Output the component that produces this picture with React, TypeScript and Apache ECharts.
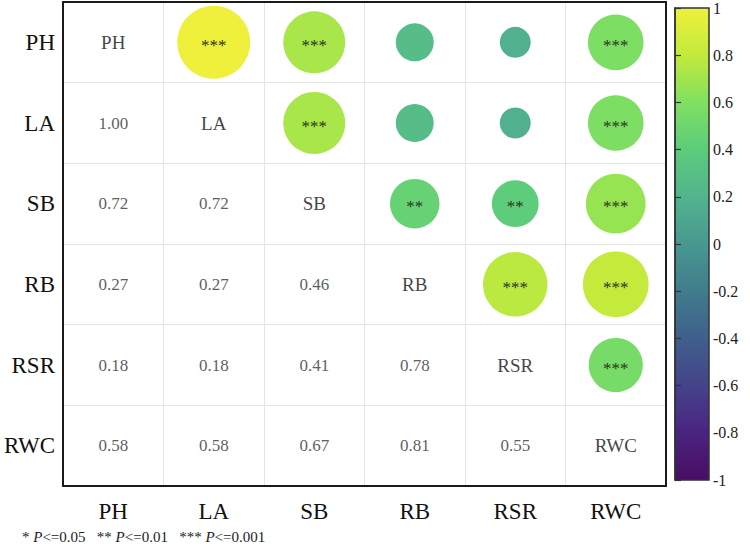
import React, { useEffect, useRef } from 'react';
import * as echarts from 'echarts';

// Trait names (row/column order of the matrix)
const variables = ['PH', 'LA', 'SB', 'RB', 'RSR', 'RWC'];

// Pearson correlation coefficients, one row per trait
const corrPH = [1.0, 1.0, 0.72, 0.27, 0.18, 0.58];
const corrLA = [1.0, 1.0, 0.72, 0.27, 0.18, 0.58];
const corrSB = [0.72, 0.72, 1.0, 0.46, 0.41, 0.67];
const corrRB = [0.27, 0.27, 0.46, 1.0, 0.78, 0.81];
const corrRSR = [0.18, 0.18, 0.41, 0.78, 1.0, 0.55];
const corrRWC = [0.58, 0.58, 0.67, 0.81, 0.55, 1.0];

// Significance marks, one row per trait
const sigPH = ['', '***', '***', '', '', '***'];
const sigLA = ['***', '', '***', '', '', '***'];
const sigSB = ['***', '***', '', '**', '**', '***'];
const sigRB = ['', '', '**', '', '***', '***'];
const sigRSR = ['', '', '**', '***', '', '***'];
const sigRWC = ['***', '***', '***', '***', '***', ''];

// Colour scale from -1 to 1
const colorStops = [
  '#4a0d63', '#4a2480', '#45438a', '#3f5f8c', '#417c8c', '#489890',
  '#52b48e', '#5ccc7c', '#80e060', '#c2ea3c', '#eef03c',
];
const scaleMin = -1;
const scaleMax = 1;
const scaleStep = 0.2;

const footnote = '* {i|P}<=0.05   ** {i|P}<=0.01   *** {i|P}<=0.001';

const SERIF = "'Liberation Serif', serif";

export default function App() {
  const ref = useRef<HTMLDivElement>(null);

  useEffect(() => {
    document.body.style.margin = '0';
    const chart = echarts.init(ref.current!, null, { renderer: 'svg' });

    const corr = [corrPH, corrLA, corrSB, corrRB, corrRSR, corrRWC];
    const sig = [sigPH, sigLA, sigSB, sigRB, sigRSR, sigRWC];

    const upper: any[] = [];
    const lower: any[] = [];
    const diag: any[] = [];
    for (let i = 0; i < variables.length; i++) {
      for (let j = 0; j < variables.length; j++) {
        if (i === j) diag.push([j, i, variables[i]]);
        else if (j > i) upper.push([j, i, corr[i][j], sig[i][j]]);
        else lower.push([j, i, corr[i][j]]);
      }
    }

    const gradient = new echarts.graphic.LinearGradient(
      0, 0, 0, 1,
      colorStops
        .slice()
        .reverse()
        .map((c, k) => ({ offset: k / (colorStops.length - 1), color: c }))
    );

    const frameAxis = { show: true, lineStyle: { color: '#1a1a1a', width: 2 } };

    chart.setOption({
      animation: false,
      textStyle: { fontFamily: SERIF },
      grid: [
        { left: 63, top: 2, width: 603, height: 484 },
        {
          left: 675, top: 7, width: 34, height: 473,
          show: true, borderColor: '#333', borderWidth: 1.5,
          backgroundColor: gradient,
        },
      ],
      xAxis: [
        {
          type: 'category', gridIndex: 0, data: variables, position: 'bottom',
          axisLine: frameAxis, axisTick: { show: false },
          axisLabel: { fontSize: 23, color: '#111', margin: 14, fontFamily: SERIF },
          splitLine: { show: true, lineStyle: { color: '#e4e4e4', width: 1 } },
        },
        { type: 'value', gridIndex: 1, show: false, min: 0, max: 1 },
        {
          type: 'category', gridIndex: 0, data: variables, position: 'top',
          axisLine: frameAxis, axisTick: { show: false }, axisLabel: { show: false },
          splitLine: { show: false },
        },
      ],
      yAxis: [
        {
          type: 'category', gridIndex: 0, data: variables, inverse: true, position: 'left',
          axisLine: frameAxis, axisTick: { show: false },
          axisLabel: { fontSize: 23, color: '#111', margin: 8, fontFamily: SERIF },
          splitLine: { show: true, lineStyle: { color: '#e4e4e4', width: 1 } },
        },
        {
          type: 'value', gridIndex: 1, position: 'right',
          min: scaleMin, max: scaleMax, interval: scaleStep,
          axisLine: { show: true, lineStyle: { color: '#333', width: 1.5 } },
          axisTick: { show: true, length: 6, lineStyle: { color: '#333', width: 1.2 } },
          axisLabel: {
            fontSize: 16, color: '#222', margin: 4, fontFamily: SERIF,
            formatter: (v: number) => String(Math.round(v * 10) / 10),
          },
          splitLine: { show: false },
        },
        {
          type: 'category', gridIndex: 0, data: variables, inverse: true, position: 'right',
          axisLine: frameAxis, axisTick: { show: false }, axisLabel: { show: false },
          splitLine: { show: false },
        },
      ],
      visualMap: {
        show: false,
        type: 'continuous',
        min: scaleMin,
        max: scaleMax,
        dimension: 2,
        seriesIndex: 0,
        inRange: { color: colorStops },
      },
      series: [
        {
          type: 'scatter',
          xAxisIndex: 0, yAxisIndex: 0,
          data: upper,
          symbol: 'circle',
          symbolSize: (v: any[]) => 73 * Math.sqrt(Math.abs(v[2])),
          itemStyle: { opacity: 1 },
          label: {
            show: true, position: 'inside',
            formatter: (p: any) => p.value[3],
            fontSize: 17, color: '#2d3320', fontFamily: SERIF,
            offset: [0, 3],
          },
          emphasis: { disabled: true },
          z: 2,
        },
        {
          type: 'scatter',
          xAxisIndex: 0, yAxisIndex: 0,
          data: lower,
          symbolSize: 0,
          label: {
            show: true, position: 'inside',
            formatter: (p: any) => p.value[2].toFixed(2),
            fontSize: 17, color: '#333', fontFamily: SERIF,
          },
          emphasis: { disabled: true },
        },
        {
          type: 'scatter',
          xAxisIndex: 0, yAxisIndex: 0,
          data: diag,
          symbolSize: 0,
          label: {
            show: true, position: 'inside',
            formatter: (p: any) => p.value[2],
            fontSize: 19, color: '#111', fontFamily: SERIF,
          },
          emphasis: { disabled: true },
        },
      ],
      graphic: [
        {
          type: 'text', left: 22, top: 529,
          style: {
            text: footnote,
            fontSize: 15, fill: '#222', fontFamily: SERIF,
            rich: { i: { fontStyle: 'italic', fontSize: 15, fontFamily: SERIF, fill: '#222' } },
          },
        },
      ],
    });

    return () => chart.dispose();
  }, []);

  return <div ref={ref} style={{ width: 750, height: 547 }} />;
}
